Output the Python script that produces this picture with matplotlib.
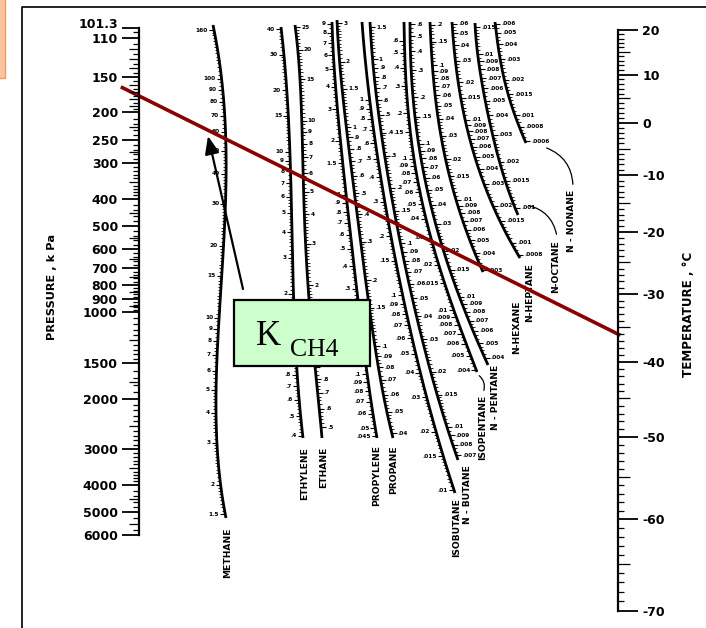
import numpy as np
import matplotlib
matplotlib.use('Agg')
import matplotlib.pyplot as plt
from matplotlib.ticker import FixedLocator, FixedFormatter, NullFormatter
from matplotlib.patches import Rectangle
from matplotlib.collections import LineCollection

W, H = 706, 628

# ---------------- data ----------------
pressure_labels = [101.3, 110, 150, 200, 250, 300, 400, 500, 600, 700, 800, 900,
                   1000, 1500, 2000, 3000, 4000, 5000, 6000]
pressure_medium = [120, 130, 140, 160, 170, 180, 190, 225, 275, 350, 450, 550, 650,
                   750, 850, 950, 1250, 1750, 2500, 3500, 4500, 5500]
pressure_minor = ([105, 115, 125, 135, 145, 155, 165, 175, 185, 195]
                  + [210, 220, 230, 240, 260, 270, 280, 290, 310, 320, 330, 340, 360, 370, 380, 390]
                  + [420, 440, 460, 480, 520, 540, 560, 580, 620, 640, 660, 680, 720, 740,
                     760, 780, 820, 840, 860, 880, 920, 940, 960, 980]
                  + [1050, 1100, 1150, 1200, 1300, 1350, 1400, 1450, 1600, 1700, 1800, 1900]
                  + [2100, 2200, 2300, 2400, 2600, 2700, 2800, 2900]
                  + [3100, 3200, 3300, 3400, 3600, 3700, 3800, 3900]
                  + [4200, 4400, 4600, 4800, 5250, 5750])

temp_labels = [20, 10, 0, -10, -20, -30, -40, -50, -60, -70]
temp_medium = [15, 5, -5, -15, -25, -35, -45, -55, -65]
temp_minor = [t for t in range(-70, 21) if t % 5 != 0]

line_pressure = 175.0     # kPa
line_temperature = -36.0  # deg C

names = ['METHANE', 'ETHYLENE', 'ETHANE', 'PROPYLENE', 'PROPANE', 'ISOBUTANE',
         'N - BUTANE', 'ISOPENTANE', 'N - PENTANE', 'N-HEXANE', 'N-HEPTANE',
         'N-OCTANE', 'N - NONANE']

k_methane = [160, 100, 90, 80, 70, 60, 50, 40, 30, 20, 15, 10, 9, 8, 7, 6, 5, 4, 3, 2, 1.5]
k_ethylene = [40, 30, 20, 15, 10, 9, 8, 7, 6, 5, 4, 3, 2, 1.5, 1, 0.9, 0.8, 0.7, 0.6, 0.5, 0.4]
k_ethane = [25, 20, 15, 10, 9, 8, 7, 6, 5, 4, 3, 2, 1.5, 1, 0.9, 0.8, 0.7, 0.6, 0.5]
k_propylene = [9, 8, 7, 6, 5, 4, 3, 2, 1.5, 1, 0.9, 0.8, 0.7, 0.6, 0.5, 0.4, 0.3, 0.2,
               0.15, 0.1, 0.09, 0.08, 0.07, 0.06, 0.05, 0.045]
k_propane = [3, 2, 1.5, 1, 0.9, 0.8, 0.7, 0.6, 0.5, 0.4, 0.3, 0.2, 0.15, 0.1, 0.09,
             0.08, 0.07, 0.06, 0.05, 0.04]
k_isobutane = [1, 0.9, 0.8, 0.7, 0.6, 0.5, 0.4, 0.3, 0.2, 0.15, 0.1, 0.09, 0.08, 0.07,
               0.06, 0.05, 0.04, 0.03, 0.02, 0.015, 0.01]
k_nbutane = [1.5, 1, 0.9, 0.8, 0.7, 0.6, 0.5, 0.4, 0.3, 0.2, 0.15, 0.1, 0.09, 0.08,
             0.07, 0.06, 0.05, 0.04, 0.03, 0.02, 0.015, 0.01, 0.009, 0.008, 0.007]
k_isopentane = [0.6, 0.5, 0.4, 0.3, 0.2, 0.15, 0.1, 0.09, 0.08, 0.07, 0.06, 0.05, 0.04,
                0.03, 0.02, 0.015, 0.01, 0.009, 0.008, 0.007, 0.006, 0.005, 0.004]
k_npentane = [0.6, 0.5, 0.4, 0.3, 0.2, 0.15, 0.1, 0.09, 0.08, 0.07, 0.06, 0.05, 0.04,
              0.03, 0.02, 0.015, 0.01, 0.009, 0.008, 0.007, 0.006, 0.005, 0.004]
k_nhexane = [0.2, 0.15, 0.1, 0.09, 0.08, 0.07, 0.06, 0.05, 0.04, 0.03, 0.02, 0.015,
             0.01, 0.009, 0.008, 0.007, 0.006, 0.005, 0.004, 0.003]
k_nheptane = [0.06, 0.05, 0.04, 0.03, 0.02, 0.015, 0.01, 0.009, 0.008, 0.007, 0.006,
              0.005, 0.004, 0.003, 0.002, 0.0015, 0.001, 0.0008]
k_noctane = [0.015, 0.01, 0.009, 0.008, 0.007, 0.006, 0.005, 0.004, 0.003, 0.002,
             0.0015, 0.001]
k_nnonane = [0.006, 0.005, 0.004, 0.003, 0.002, 0.0015, 0.001, 0.0008, 0.0006]

k_labels = [k_methane, k_ethylene, k_ethane, k_propylene, k_propane, k_isobutane,
            k_nbutane, k_isopentane, k_npentane, k_nhexane, k_nheptane, k_noctane,
            k_nnonane]
# K value at the top and bottom ends of each scale
k_end_top = [168, 41, 25.5, 9.2, 3.1, 2.5, 1.6, 0.8, 0.62, 0.21, 0.062, 0.016, 0.0062]
k_end_bot = [1.45, 0.39, 0.45, 0.044, 0.038, 0.0097, 0.0066, 0.0039, 0.0036, 0.0029,
             0.00075, 0.0009, 0.00058]

# ---------------- layout (pixel space of the nomograph) ----------------
curve_top_y = [25, 27, 25, 22, 20, 22, 22, 22, 22, 22, 22, 23, 22]
curve_bot_y = [518, 438, 438, 438, 438, 493, 460, 372, 365, 272, 258, 215, 143]
curve_x = [[213, 226, 222, 216, 226],
           [281, 289, 292, 295, 303],
           [295, 302, 305, 312, 322],
           [332, 339, 350, 362, 377],
           [337, 346, 359, 373, 393],
           [362, 375, 395, 421, 455],
           [370, 381, 400, 425, 458],
           [404, 408, 421, 445, 477],
           [410, 414, 428, 453, 488],
           [430, 434, 443, 459, 483],
           [452, 458, 470, 490, 520],
           [475, 480, 489, 501, 518],
           [495, 499, 505, 514, 526]]
label_side = [-1, -1, 1, -1, 1, -1, 1, -1, 1, 1, 1, 1, 1]
name_x = [228, 305, 324, 377, 394, 457, 467, 483, 495, 517, 530, 556, 572]
name_top = [527, 447, 447, 445, 445, 498, 465, 395, 365, 300, 263, 240, 190]
box = (234, 300, 136, 66)

PX = 0.72  # points per pixel at dpi 100
fig = plt.figure(figsize=(W / 100, H / 100), dpi=100)
ax = fig.add_axes([0, 0, 1, 1])
ax.set_xlim(0, W)
ax.set_ylim(H, 0)
ax.axis('off')

# frame and slide fragment
ax.plot([22, 22, W + 10], [H + 10, 7, 7], color='#111111', lw=1.3, zorder=2)
ax.add_patch(Rectangle((-6, -6), 10.5, 84, facecolor='#FBC4A0', edgecolor='#EE9A66',
                       lw=1.0, zorder=2))


def scale_axes(x_px, y_top, y_bot, side):
    w = 2 / W
    left = x_px / W if side == 'left' else x_px / W - w
    a = fig.add_axes([left, 1 - y_bot / H, w, (y_bot - y_top) / H])
    a.patch.set_visible(False)
    for s in a.spines.values():
        s.set_visible(False)
    a.xaxis.set_visible(False)
    return a


def to_main(axx, pt):
    return ax.transData.inverted().transform(axx.transData.transform(pt))


def fmt_k(k):
    s = '%g' % k
    if s.startswith('0.'):
        s = s[1:]
    return s


TICK_FS = 9.0

# ---------- pressure scale ----------
P_TOP, P_BOT = 28, 535
axP = scale_axes(139, P_TOP, P_BOT, 'left')
axP.set_yscale('log')
axP.set_ylim(pressure_labels[-1], pressure_labels[0])
axP.spines['left'].set_visible(True)
axP.spines['left'].set_linewidth(1.6)
axP.yaxis.set_major_locator(FixedLocator(pressure_labels))
axP.yaxis.set_major_formatter(FixedFormatter([''] + ['%g' % p for p in pressure_labels[1:]]))
axP.yaxis.set_minor_locator(FixedLocator(pressure_minor))
axP.yaxis.set_minor_formatter(NullFormatter())
axP.tick_params(axis='y', which='major', left=True, right=False, direction='out',
                length=17 * PX, width=1.3, pad=3, labelsize=TICK_FS)
axP.tick_params(axis='y', which='minor', left=True, right=False, direction='out',
                length=6 * PX, width=0.9)
for lab in axP.get_yticklabels():
    lab.set_fontweight('bold')
# the first pressure label sits just above its tick (as on the original chart)
p_first = to_main(axP, (0, pressure_labels[0]))
ax.text(p_first[0] - 21, p_first[1] - 3, '%g' % pressure_labels[0], ha='right',
        va='center', fontsize=TICK_FS, fontweight='bold', zorder=4)

axPm = scale_axes(139, P_TOP, P_BOT, 'left')
axPm.set_yscale('log')
axPm.set_ylim(pressure_labels[-1], pressure_labels[0])
axPm.yaxis.set_major_locator(FixedLocator(pressure_medium))
axPm.yaxis.set_major_formatter(NullFormatter())
axPm.yaxis.set_minor_locator(FixedLocator([]))
axPm.tick_params(axis='y', which='major', left=True, right=False, direction='out',
                 length=10 * PX, width=0.9)


# ---------- temperature scale ----------
def t_fwd(t):
    return -1.0 / (np.asarray(t, dtype=float) + 250.0)


def t_inv(v):
    v = np.asarray(v, dtype=float)
    with np.errstate(divide='ignore'):
        return -1.0 / v - 250.0


T_TOP, T_BOT = 30, 611
axT = scale_axes(618, T_TOP, T_BOT, 'right')
axT.set_yscale('function', functions=(t_fwd, t_inv))
axT.set_ylim(temp_labels[-1], temp_labels[0])
axT.spines['right'].set_visible(True)
axT.spines['right'].set_linewidth(1.6)
axT.yaxis.tick_right()
axT.yaxis.set_major_locator(FixedLocator(temp_labels))
axT.yaxis.set_major_formatter(FixedFormatter(['%d' % t for t in temp_labels]))
axT.yaxis.set_minor_locator(FixedLocator(temp_minor))
axT.yaxis.set_minor_formatter(NullFormatter())
axT.tick_params(axis='y', which='major', right=True, left=False, direction='out',
                length=20 * PX, width=1.3, pad=3, labelsize=TICK_FS)
axT.tick_params(axis='y', which='minor', right=True, left=False, direction='out',
                length=6 * PX, width=0.9)
for lab in axT.get_yticklabels():
    lab.set_fontweight('bold')

axTm = scale_axes(618, T_TOP, T_BOT, 'right')
axTm.set_yscale('function', functions=(t_fwd, t_inv))
axTm.set_ylim(temp_labels[-1], temp_labels[0])
axTm.yaxis.tick_right()
axTm.yaxis.set_major_locator(FixedLocator(temp_medium))
axTm.yaxis.set_major_formatter(NullFormatter())
axTm.yaxis.set_minor_locator(FixedLocator([]))
axTm.tick_params(axis='y', which='major', right=True, left=False, direction='out',
                 length=12 * PX, width=0.9)

# axis titles
ax.text(52, 287, 'PRESSURE , k Pa', rotation=90, ha='center', va='center',
        fontsize=8.2, fontweight='bold', zorder=4)
ax.text(689, 314, 'TEMPERATURE , \u00b0C', rotation=90, ha='center', va='center',
        fontsize=8.6, fontweight='bold', zorder=4)


def in_box(x, y):
    bx, by, bw, bh = box
    return bx - 2 <= x <= bx + bw + 2 and by - 2 <= y <= by + bh + 2


# ---------- K curves ----------
for i, name in enumerate(names):
    yt, yb = curve_top_y[i], curve_bot_y[i]
    coef = np.polyfit(np.linspace(yt, yb, 5), curve_x[i], 4)
    yy = np.linspace(yt, yb, 200)
    ax.plot(np.polyval(coef, yy), yy, color='black', lw=2.0, solid_capstyle='butt',
            zorder=3)
    lt, lb = np.log10(k_end_top[i]), np.log10(k_end_bot[i])

    def ypos(k, yt=yt, yb=yb, lt=lt, lb=lb):
        return yt + (lt - np.log10(k)) / (lt - lb) * (yb - yt)

    sgn = label_side[i]
    labs = k_labels[i]
    major, minor = [], []
    for k in labs:
        y = ypos(k)
        x = np.polyval(coef, y)
        major.append([(x, y), (x + sgn * 5, y)])
        tx = x + sgn * 6
        if not in_box(tx, y):   # values hidden under the callout box are not drawn
            ax.text(tx, y, fmt_k(k), ha='right' if sgn < 0 else 'left',
                    va='center', fontsize=4.2, fontweight='bold', zorder=3)
    for a, b in zip(labs[:-1], labs[1:]):
        n = max(1, int((ypos(b) - ypos(a)) / 3.2))
        for k in np.linspace(a, b, n + 1)[1:-1]:
            y = ypos(k)
            x = np.polyval(coef, y)
            minor.append([(x, y), (x + sgn * 3, y)])
    ax.add_collection(LineCollection(major, colors='black', linewidths=0.8, zorder=3))
    ax.add_collection(LineCollection(minor, colors='black', linewidths=0.6, zorder=3))
    ax.text(name_x[i], name_top[i], name, rotation=90, ha='center', va='top',
            fontsize=6.6, fontweight='bold', zorder=3)

# leaders from scale ends to their names
leader = dict(arrowstyle='-', lw=0.9, color='black')
ax.annotate('', xy=(483, 393), xytext=(477, 374),
            arrowprops=dict(leader, connectionstyle='arc3,rad=-0.4'), zorder=3)
ax.annotate('', xy=(557, 237), xytext=(526, 205),
            arrowprops=dict(leader, connectionstyle='arc3,rad=-0.35'), zorder=3)
ax.annotate('', xy=(573, 187), xytext=(544, 147),
            arrowprops=dict(leader, connectionstyle='arc3,rad=-0.35'), zorder=3)

# ---------- isotherm/isobar line ----------
p0 = to_main(axP, (0, line_pressure))
p1 = to_main(axT, (1, line_temperature))
d = p1 - p0
start = p0 - 0.038 * d
end = p1 + 0.005 * d
ax.plot([start[0], end[0]], [start[1], end[1]], color='#8B0000', lw=2.6,
        solid_capstyle='butt', zorder=6)

# ---------- K_CH4 callout ----------
ax.add_patch(Rectangle(box[:2], box[2], box[3], facecolor='#CCFFCC', edgecolor='black',
                       lw=1.6, zorder=10))
ax.text(256, 345, 'K', fontsize=25, family='Liberation Serif', va='baseline',
        ha='left', zorder=11)
ax.text(290, 356, 'CH4', fontsize=18.5, family='Liberation Serif', va='baseline',
        ha='left', zorder=11)
ax.annotate('', xy=(208, 136), xytext=(243, 289),
            arrowprops=dict(arrowstyle='-|>,head_length=0.9,head_width=0.36',
                            mutation_scale=12, lw=1.6, color='black',
                            shrinkA=0, shrinkB=0), zorder=11)

fig.savefig('out.png', dpi=100, facecolor='white')
